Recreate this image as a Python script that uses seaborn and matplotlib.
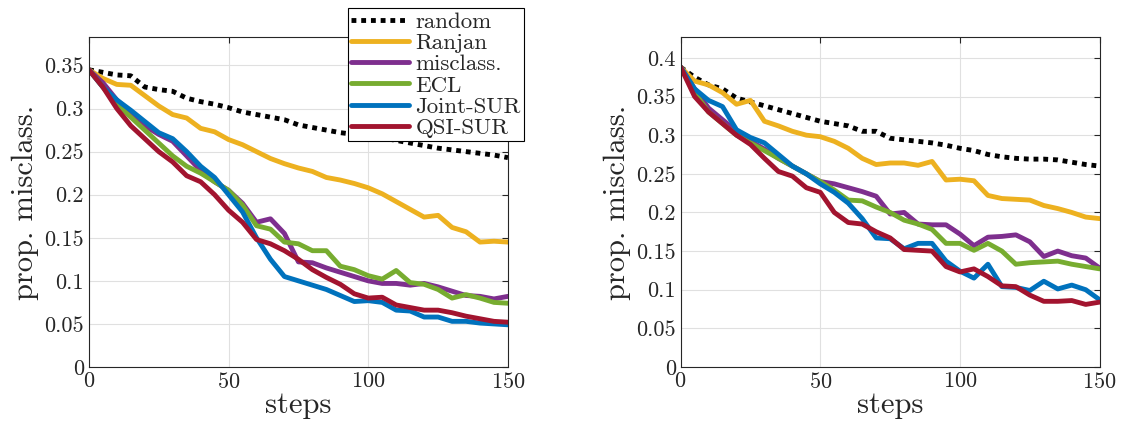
import numpy as np
import pandas as pd
import seaborn as sns
import matplotlib.pyplot as plt

steps = list(range(0, 151, 5))
methods = ["random", "Ranjan", "misclass.", "ECL", "Joint-SUR", "QSI-SUR"]
colors = ["black", "#EDB120", "#7E2F8E", "#77AC30", "#0072BD", "#A2142F"]

left = {
    "random": [0.345, 0.342, 0.339, 0.338, 0.325, 0.322, 0.32, 0.312, 0.308, 0.305, 0.301, 0.296, 0.293, 0.290, 0.287, 0.281,
               0.278, 0.275, 0.272, 0.27, 0.268, 0.266, 0.263, 0.26, 0.257, 0.254, 0.252, 0.25, 0.248, 0.246, 0.243],
    "Ranjan": [0.345, 0.335, 0.328, 0.327, 0.315, 0.303, 0.293, 0.289, 0.277, 0.273, 0.264, 0.258, 0.250, 0.242, 0.236, 0.231,
               0.227, 0.22, 0.217, 0.213, 0.208, 0.201, 0.192, 0.183, 0.174, 0.176, 0.162, 0.157, 0.145, 0.146, 0.145],
    "misclass.": [0.345, 0.33, 0.31, 0.295, 0.28, 0.27, 0.262, 0.245, 0.228, 0.215, 0.205, 0.19, 0.168, 0.172, 0.155, 0.122,
                  0.121, 0.115, 0.11, 0.105, 0.1, 0.097, 0.097, 0.095, 0.097, 0.093, 0.088, 0.083, 0.082, 0.079, 0.082],
    "ECL": [0.345, 0.325, 0.305, 0.29, 0.275, 0.26, 0.245, 0.233, 0.225, 0.215, 0.205, 0.188, 0.164, 0.16, 0.145, 0.143,
            0.135, 0.135, 0.117, 0.113, 0.106, 0.102, 0.112, 0.098, 0.096, 0.09, 0.08, 0.084, 0.08, 0.075, 0.074],
    "Joint-SUR": [0.345, 0.325, 0.31, 0.298, 0.285, 0.272, 0.265, 0.25, 0.233, 0.22, 0.2, 0.18, 0.15, 0.125, 0.105, 0.1,
                  0.095, 0.09, 0.083, 0.076, 0.077, 0.075, 0.066, 0.065, 0.058, 0.058, 0.053, 0.053, 0.051, 0.050, 0.049],
    "QSI-SUR": [0.345, 0.325, 0.3, 0.28, 0.265, 0.25, 0.238, 0.222, 0.215, 0.2, 0.182, 0.168, 0.148, 0.143, 0.135, 0.125,
                0.113, 0.104, 0.096, 0.085, 0.08, 0.081, 0.072, 0.069, 0.066, 0.066, 0.063, 0.059, 0.056, 0.053, 0.052],
}
right = {
    "random": [0.388, 0.375, 0.365, 0.360, 0.348, 0.343, 0.338, 0.333, 0.328, 0.323, 0.318, 0.315, 0.312, 0.305, 0.305, 0.296,
               0.294, 0.292, 0.29, 0.287, 0.283, 0.28, 0.275, 0.272, 0.270, 0.269, 0.269, 0.268, 0.265, 0.262, 0.26],
    "Ranjan": [0.388, 0.37, 0.365, 0.355, 0.34, 0.345, 0.318, 0.312, 0.305, 0.3, 0.298, 0.292, 0.283, 0.27, 0.262, 0.264,
               0.264, 0.261, 0.266, 0.242, 0.243, 0.241, 0.222, 0.218, 0.217, 0.216, 0.209, 0.205, 0.2, 0.194, 0.192],
    "misclass.": [0.388, 0.36, 0.335, 0.32, 0.305, 0.292, 0.282, 0.27, 0.26, 0.25, 0.24, 0.237, 0.232, 0.227, 0.221, 0.198,
                  0.2, 0.185, 0.184, 0.184, 0.172, 0.157, 0.168, 0.169, 0.171, 0.162, 0.143, 0.15, 0.144, 0.141, 0.128],
    "ECL": [0.388, 0.355, 0.33, 0.315, 0.3, 0.29, 0.28, 0.27, 0.26, 0.25, 0.24, 0.229, 0.216, 0.215, 0.207, 0.2,
            0.19, 0.185, 0.178, 0.16, 0.16, 0.151, 0.16, 0.15, 0.133, 0.135, 0.136, 0.137, 0.133, 0.13, 0.127],
    "Joint-SUR": [0.388, 0.36, 0.345, 0.337, 0.307, 0.297, 0.29, 0.275, 0.26, 0.25, 0.237, 0.226, 0.212, 0.192, 0.167, 0.166,
                  0.153, 0.16, 0.16, 0.137, 0.124, 0.115, 0.133, 0.104, 0.103, 0.099, 0.111, 0.101, 0.106, 0.1, 0.087],
    "QSI-SUR": [0.388, 0.35, 0.33, 0.315, 0.3, 0.288, 0.27, 0.253, 0.247, 0.232, 0.226, 0.2, 0.187, 0.185, 0.175, 0.167,
                0.152, 0.151, 0.15, 0.13, 0.123, 0.127, 0.117, 0.105, 0.104, 0.093, 0.085, 0.085, 0.086, 0.081, 0.084],
}

sns.set_style("whitegrid")
plt.rcParams["font.family"] = ["cmr10", "DejaVu Serif"]
plt.rcParams["axes.formatter.use_mathtext"] = True

fig = plt.figure(figsize=(11.25, 4.28), dpi=100)
ax1 = fig.add_axes([0.079, 0.1425, 0.3725, 0.771])
ax2 = fig.add_axes([0.605, 0.1425, 0.3725, 0.771])


def draw(ax, data, ymax, yticks, ylabels):
    df = pd.DataFrame({"steps": steps, **data}).melt("steps", var_name="method", value_name="val")
    sns.lineplot(data=df, x="steps", y="val", hue="method", hue_order=methods,
                 palette=colors, linewidth=3.5, ax=ax, legend=False)
    ax.lines[0].set_linestyle((0, (1, 1)))
    ax.set_xlim(0, 150)
    ax.set_ylim(0, ymax)
    ax.set_xticks([0, 50, 100, 150])
    ax.set_yticks(yticks)
    ax.set_yticklabels(ylabels)
    ax.tick_params(labelsize=16, direction="in", top=True, right=True, length=4, color="#262626")
    ax.set_xlabel("steps", fontsize=22, labelpad=0)
    ax.set_ylabel("prop. misclass.", fontsize=22)
    ax.grid(color="#e0e0e0", linewidth=0.8)
    for s in ax.spines.values():
        s.set_color("#262626")
        s.set_linewidth(0.8)


yt = [0, 0.05, 0.1, 0.15, 0.2, 0.25, 0.3, 0.35, 0.4]
yl = ["0", "0.05", "0.1", "0.15", "0.2", "0.25", "0.3", "0.35", "0.4"]
draw(ax1, left, 0.383, yt[:8], yl[:8])
draw(ax2, right, 0.427, yt, yl)

leg = fig.legend(ax1.lines[:6], methods, loc="upper left", bbox_to_anchor=(0.299, 1.007),
                 fontsize=16.5, handlelength=2.5, borderpad=0.15, labelspacing=0.05,
                 handletextpad=0.3, fancybox=False, framealpha=1)
leg.get_frame().set_edgecolor("black")
leg.get_frame().set_linewidth(0.8)

fig.savefig("out.png", dpi=100)
